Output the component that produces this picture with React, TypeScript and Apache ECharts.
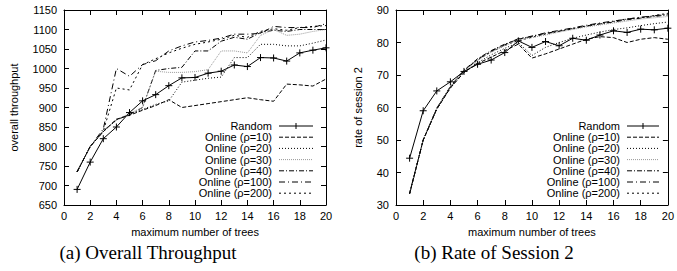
import React, { useEffect, useRef } from "react";
import * as echarts from "echarts";

const trees = [1, 2, 3, 4, 5, 6, 7, 8, 9, 10, 11, 12, 13, 14, 15, 16, 17, 18, 19, 20];

const seriesNames = [
  "Random",
  "Online (ρ=10)",
  "Online (ρ=20)",
  "Online (ρ=30)",
  "Online (ρ=40)",
  "Online (ρ=100)",
  "Online (ρ=200)",
];

// (a) overall throughput
const randomTp = [690, 760, 820, 850, 887, 917, 933, 956, 976, 977, 988, 993, 1009, 1005, 1028, 1027, 1019, 1040, 1047, 1053];
const onl10Tp = [735, 800, 838, 870, 880, 893, 905, 920, 900, 905, 910, 915, 920, 925, 920, 916, 960, 958, 955, 973];
const onl20Tp = [735, 800, 838, 868, 882, 895, 908, 917, 965, 970, 975, 978, 1028, 1028, 1062, 1062, 1058, 1058, 1065, 1073];
const onl30Tp = [735, 800, 840, 868, 885, 900, 993, 990, 990, 992, 997, 1045, 1045, 1040, 1085, 1100, 1085, 1088, 1095, 1100];
const onl40Tp = [735, 800, 840, 868, 882, 900, 995, 1000, 1003, 1045, 1045, 1070, 1080, 1075, 1092, 1098, 1095, 1100, 1100, 1100];
const onl100Tp = [735, 800, 845, 1000, 980, 1010, 1020, 1045, 1058, 1068, 1072, 1078, 1088, 1088, 1090, 1108, 1105, 1105, 1105, 1115];
const onl200Tp = [735, 800, 840, 950, 945, 1010, 1025, 1040, 1052, 1062, 1068, 1075, 1085, 1080, 1095, 1102, 1098, 1105, 1108, 1110];

// (b) rate of session 2
const randomRate = [44.4, 59, 65.1, 67.9, 71.1, 73.3, 74.6, 76.9, 80.5, 78.5, 80.3, 79, 81.3, 80.7, 82.3, 83.6, 83.1, 84.1, 83.9, 84.4];
const onl10Rate = [33.5, 50, 59.5, 66, 70.8, 73.5, 75.5, 77.5, 79.5, 75.2, 76.5, 78, 79.5, 81, 81.8, 81.5, 80, 81, 81.5, 81];
const onl20Rate = [33.5, 50, 59.5, 66, 70.8, 73.8, 76.2, 78.2, 80, 76, 78.5, 80, 81.3, 82.3, 83.2, 84, 84.5, 85.2, 85.8, 86.3];
const onl30Rate = [33.5, 50, 59.8, 66.3, 71.2, 74.5, 77, 79, 80.8, 81.5, 82.3, 83.2, 84, 84.8, 85.4, 86, 86.6, 87.2, 87.6, 88];
const onl40Rate = [33.5, 50, 59.8, 66.5, 71.5, 75, 77.5, 79.5, 81, 82, 82.8, 83.5, 84.3, 85, 85.7, 86.3, 87, 87.5, 88, 88.5];
const onl100Rate = [33.5, 50, 59.6, 66.2, 71.3, 74.8, 77.3, 79.3, 81.2, 81.8, 83, 83.7, 84.5, 85.3, 86, 86.6, 87.2, 87.8, 88.2, 88.8];
const onl200Rate = [33.5, 50, 59.7, 66.4, 71.4, 74.6, 77.1, 79.1, 80.6, 81.6, 82.6, 83.4, 84.2, 85.1, 85.8, 86.5, 87.3, 87.6, 88.3, 89];

const tpSeries = [randomTp, onl10Tp, onl20Tp, onl30Tp, onl40Tp, onl100Tp, onl200Tp];
const rateSeries = [randomRate, onl10Rate, onl20Rate, onl30Rate, onl40Rate, onl100Rate, onl200Rate];

const lineStyles: { dash: any; color: string }[] = [
  { dash: "solid", color: "#000" },
  { dash: [4, 2], color: "#000" },
  { dash: [1, 2], color: "#000" },
  { dash: [1, 1], color: "#999" },
  { dash: [5, 2, 1, 2], color: "#000" },
  { dash: [6, 3, 1, 3], color: "#000" },
  { dash: [2, 3], color: "#000" },
];

const SANS = "Liberation Sans";
const PLUS = "path://M0,5L10,5M5,0L5,10";

function makeXAxes(gridIndex: number) {
  const common = {
    type: "value",
    gridIndex,
    min: 0,
    max: 20,
    interval: 2,
    axisLine: { show: true, onZero: false, lineStyle: { color: "#000", width: 1 } },
    axisTick: { show: true, inside: true, length: 5, lineStyle: { color: "#000", width: 1 } },
    splitLine: { show: false },
  };
  return [
    {
      ...common,
      position: "bottom",
      axisLabel: { color: "#000", fontSize: 11, fontFamily: SANS, margin: 5, formatter: (v: number) => String(v) },
      name: "maximum number of trees",
      nameLocation: "middle",
      nameGap: 21,
      nameTextStyle: { color: "#000", fontSize: 11, fontFamily: SANS },
    },
    { ...common, position: "top", axisLabel: { show: false } },
  ];
}

function makeYAxes(gridIndex: number, min: number, max: number, interval: number, name: string, gap: number) {
  const common = {
    type: "value",
    gridIndex,
    min,
    max,
    interval,
    axisLine: { show: true, onZero: false, lineStyle: { color: "#000", width: 1 } },
    axisTick: { show: true, inside: true, length: 5, lineStyle: { color: "#000", width: 1 } },
    splitLine: { show: false },
  };
  return [
    {
      ...common,
      position: "left",
      axisLabel: { color: "#000", fontSize: 11, fontFamily: SANS, margin: 7, formatter: (v: number) => String(v) },
      name,
      nameLocation: "middle",
      nameGap: gap,
      nameTextStyle: { color: "#000", fontSize: 11, fontFamily: SANS },
    },
    { ...common, position: "right", axisLabel: { show: false } },
  ];
}

function makeSeries(data: number[][], xAxisIndex: number, yAxisIndex: number) {
  return data.map((vals, i) => ({
    type: "line",
    name: seriesNames[i] + (xAxisIndex === 0 ? "" : " "),
    xAxisIndex,
    yAxisIndex,
    data: trees.map((t, k) => [t, vals[k]]),
    symbol: i === 0 ? PLUS : "none",
    symbolSize: 7,
    showSymbol: i === 0,
    itemStyle: { color: "#000", borderColor: "#000", borderWidth: 1 },
    lineStyle: { color: lineStyles[i].color, width: 1, type: lineStyles[i].dash },
    z: 10 - i,
  }));
}

function legendGraphics(textRight: number, lineX1: number, lineX2: number, top: number, step: number) {
  const els: any[] = [];
  seriesNames.forEach((n, i) => {
    const y = top + i * step;
    els.push({
      type: "text",
      x: textRight,
      y,
      style: {
        text: n,
        fill: "#000",
        font: `11px "${SANS}"`,
        align: "right",
        verticalAlign: "middle",
      },
      z: 100,
    });
    const ls = lineStyles[i];
    els.push({
      type: "line",
      shape: { x1: lineX1, y1: y, x2: lineX2, y2: y },
      style: {
        stroke: ls.color,
        lineWidth: 1,
        lineDash: ls.dash === "solid" ? null : ls.dash,
      },
      z: 100,
    });
    if (i === 0) {
      const cx = (lineX1 + lineX2) / 2;
      els.push({
        type: "line",
        shape: { x1: cx, y1: y - 3, x2: cx, y2: y + 3 },
        style: { stroke: "#000", lineWidth: 1 },
        z: 100,
      });
    }
  });
  return els;
}

export default function App() {
  const ref = useRef<HTMLDivElement>(null);
  useEffect(() => {
    if (!ref.current) return;
    const chart = echarts.init(ref.current, undefined, { renderer: "svg" });
    const option: any = {
      animation: false,
      backgroundColor: "#fff",
      grid: [
        { left: 64, right: 351, top: 10, bottom: 66, containLabel: false },
        { left: 396, right: 5, top: 10, bottom: 66, containLabel: false },
      ],
      xAxis: [...makeXAxes(0), ...makeXAxes(1)],
      yAxis: [
        ...makeYAxes(0, 650, 1150, 50, "overall throughput", 45),
        ...makeYAxes(1, 30, 90, 10, "rate of session 2", 33),
      ],
      series: [...makeSeries(tpSeries, 0, 0), ...makeSeries(rateSeries, 2, 2)],
      graphic: [
        ...legendGraphics(272, 279, 313, 126, 11.2),
        ...legendGraphics(620, 627, 659, 126, 11.2),
        {
          type: "text",
          x: 148,
          y: 252,
          style: {
            text: "(a) Overall Throughput",
            fill: "#000",
            font: '19px "Liberation Serif"',
            align: "center",
            verticalAlign: "middle",
          },
        },
        {
          type: "text",
          x: 494,
          y: 252,
          style: {
            text: "(b) Rate of Session 2",
            fill: "#000",
            font: '19px "Liberation Serif"',
            align: "center",
            verticalAlign: "middle",
          },
        },
      ],
    };
    chart.setOption(option);
    return () => chart.dispose();
  }, []);
  return (
    <div
      ref={ref}
      style={{ position: "fixed", left: 0, top: 0, width: 677, height: 271, background: "#fff" }}
    />
  );
}
